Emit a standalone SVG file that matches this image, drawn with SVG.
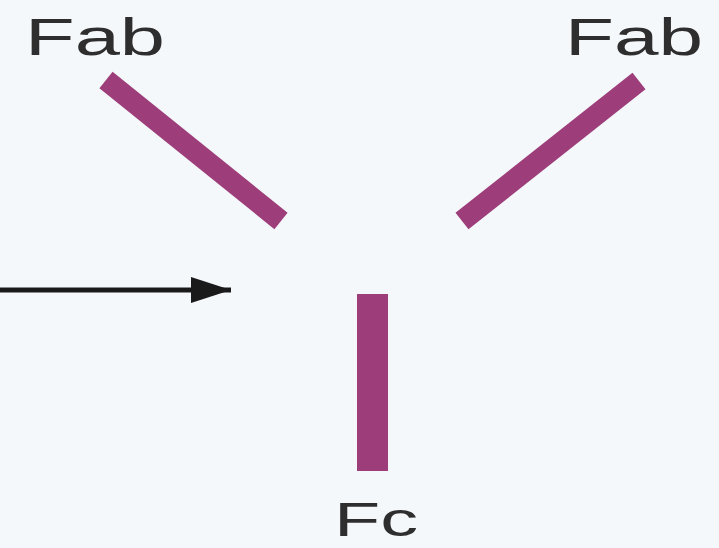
<svg xmlns="http://www.w3.org/2000/svg" width="719" height="548" viewBox="0 0 719 548">
  <defs>
    <style>
      .bar { stroke: #9d3d79; stroke-linecap: butt; fill: none; }
      .lbl { font-family: "Liberation Sans", Arial, sans-serif; fill: #2e2e2e; }
      .conn { stroke: #1a1a1a; stroke-width: 5; fill: none; }
    </style>
    <marker id="arrowhead" markerUnits="userSpaceOnUse" markerWidth="42" markerHeight="28" refX="40" refY="14" orient="auto">
      <path d="M0,1 L40,14 L0,27 Z" fill="#1a1a1a"/>
    </marker>
  </defs>
  <rect x="0" y="0" width="719" height="548" fill="#f4f8fb"/>
  <g id="fab-left">
    <line class="bar" x1="106" y1="80" x2="281" y2="221" stroke-width="21"/>
    <text class="lbl" x="25" y="55" font-size="52" textLength="140" lengthAdjust="spacingAndGlyphs">Fab</text>
  </g>
  <g id="fab-right">
    <line class="bar" x1="639" y1="81" x2="462" y2="221" stroke-width="21"/>
    <text class="lbl" x="565" y="55" font-size="52" textLength="138" lengthAdjust="spacingAndGlyphs">Fab</text>
  </g>
  <g id="fc">
    <rect x="357" y="294" width="31" height="177" fill="#9d3d79"/>
    <text class="lbl" x="334" y="536" font-size="48" textLength="84" lengthAdjust="spacingAndGlyphs">Fc</text>
  </g>
  <g id="connectors">
    <line class="conn" x1="0" y1="290" x2="231" y2="290" marker-end="url(#arrowhead)"/>
  </g>
</svg>
